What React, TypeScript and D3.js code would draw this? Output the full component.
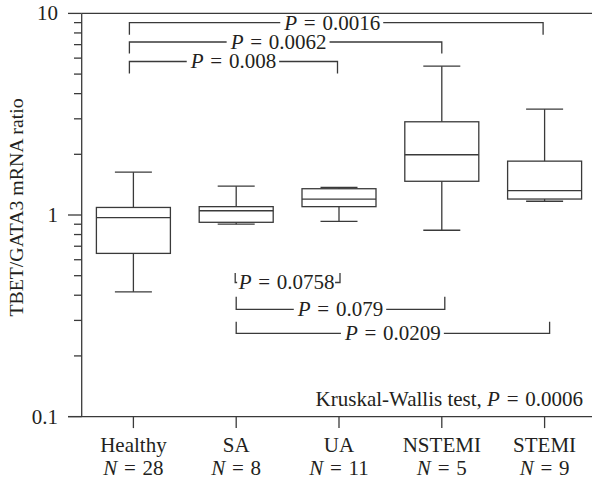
import React, { useEffect, useRef } from 'react';
import * as d3 from 'd3';

// ---- data ----
const categories = ['Healthy', 'SA', 'UA', 'NSTEMI', 'STEMI'];
const sampleSizes = [28, 8, 11, 5, 9];
const whiskerLow = [0.416, 0.9, 0.93, 0.84, 1.17];
const quartile1 = [0.645, 0.92, 1.1, 1.47, 1.2];
const medians = [0.97, 1.05, 1.2, 1.99, 1.32];
const quartile3 = [1.09, 1.1, 1.35, 2.9, 1.85];
const whiskerHigh = [1.63, 1.39, 1.37, 5.47, 3.35];
const yTickValues = [0.1, 1, 10];
const yTickLabels = ['0.1', '1', '10'];
const yMinorTicks = [0.2, 0.3, 0.4, 0.5, 0.6, 0.7, 0.8, 0.9, 2, 3, 4, 5, 6, 7, 8, 9];
const upperComparisons = [
  { from: 'Healthy', to: 'STEMI', p: '0.0016' },
  { from: 'Healthy', to: 'NSTEMI', p: '0.0062' },
  { from: 'Healthy', to: 'UA', p: '0.008' },
];
const lowerComparisons = [
  { from: 'SA', to: 'UA', p: '0.0758' },
  { from: 'SA', to: 'NSTEMI', p: '0.079' },
  { from: 'SA', to: 'STEMI', p: '0.0209' },
];
const yAxisTitle = 'TBET/GATA3 mRNA ratio';
const testLabel = 'Kruskal-Wallis test, ';
const testP = '0.0006';

// ---- layout ----
const W = 592;
const H = 479;
const FONT = '"Liberation Serif", "Times New Roman", serif';
const FS = 21;
const INK = '#231f20';
const LINE = '#3a3a3a';
const SW = 1.3;

const upperLayout = [
  { y: 22.7, leg: 12, dxL: -4, dxR: -1.5, tdx: -4, pad: 3 },
  { y: 42, leg: 11.5, dxL: -4, dxR: 0, tdx: -7, pad: 3 },
  { y: 61.5, leg: 12, dxL: -4, dxR: -1.5, tdx: 0, pad: 3 },
];
const lowerLayout = [
  { y: 282.5, leg: 9.5, dxL: -1, dxR: 1, tdx: -1, pad: 0.5 },
  { y: 309.3, leg: 12.5, dxL: 0, dxR: 3, tdx: 0, pad: 3 },
  { y: 333.3, leg: 11.6, dxL: 0, dxR: 5, tdx: 0, pad: 3 },
];

function appendEq(t: any, variable: string, value: string) {
  t.append('tspan').attr('font-style', 'italic').text(variable);
  t.append('tspan').style('word-spacing', '1.5px').text(` = ${value}`);
}

export default function App() {
  const ref = useRef<SVGSVGElement | null>(null);

  useEffect(() => {
    const svg = d3.select(ref.current);
    svg.selectAll('*').remove();

    const y = d3.scaleLog().domain([0.1, 10]).range([416.6, 13.4]);
    const x = d3.scaleBand<string>().domain(categories).range([82, 596]).padding(0);
    const cx = (c: string) => (x(c) as number) + x.bandwidth() / 2;

    const g = svg.append('g');

    // frame lines
    g.append('line').attr('x1', 81.7).attr('x2', W).attr('y1', y(10)).attr('y2', y(10))
      .attr('stroke', LINE).attr('stroke-width', SW);
    g.append('line').attr('x1', 68).attr('x2', W).attr('y1', y(0.1)).attr('y2', y(0.1))
      .attr('stroke', LINE).attr('stroke-width', SW);
    g.append('line').attr('x1', 81.7).attr('x2', 81.7).attr('y1', y(10)).attr('y2', y(0.1))
      .attr('stroke', LINE).attr('stroke-width', SW);

    // y ticks
    yTickValues.forEach((v, i) => {
      g.append('line').attr('x1', 68).attr('x2', 81.7).attr('y1', y(v)).attr('y2', y(v))
        .attr('stroke', LINE).attr('stroke-width', SW);
      g.append('text').attr('x', 58).attr('y', y(v)).attr('dy', '0.33em')
        .attr('text-anchor', 'end').attr('font-family', FONT).attr('font-size', FS)
        .attr('fill', INK).text(yTickLabels[i]);
    });
    yMinorTicks.forEach((v) => {
      g.append('line').attr('x1', 74).attr('x2', 81.7).attr('y1', y(v)).attr('y2', y(v))
        .attr('stroke', LINE).attr('stroke-width', SW);
    });

    // y title
    g.append('text')
      .attr('transform', `translate(16,207.5) rotate(-90)`)
      .attr('text-anchor', 'middle').attr('dy', '0.35em')
      .attr('font-family', FONT).attr('font-size', 19.8).attr('fill', INK)
      .text(yAxisTitle);

    // x ticks + labels
    categories.forEach((c, i) => {
      const px = cx(c);
      g.append('line').attr('x1', px).attr('x2', px).attr('y1', y(0.1)).attr('y2', y(0.1) + 11.5)
        .attr('stroke', LINE).attr('stroke-width', SW);
      g.append('text').attr('x', px).attr('y', 451.5).attr('text-anchor', 'middle')
        .attr('font-family', FONT).attr('font-size', FS).attr('fill', INK).text(c);
      const t = g.append('text').attr('x', px).attr('y', 474.5).attr('text-anchor', 'middle')
        .attr('font-family', FONT).attr('font-size', FS).attr('fill', INK);
      appendEq(t, 'N', String(sampleSizes[i]));
    });

    // boxes
    const boxW = 74;
    const capW = 37;
    categories.forEach((c, i) => {
      const px = cx(c);
      const bg = g.append('g').attr('stroke', LINE).attr('stroke-width', SW).attr('fill', 'none');
      bg.append('line').attr('x1', px).attr('x2', px).attr('y1', y(whiskerHigh[i])).attr('y2', y(quartile3[i]));
      bg.append('line').attr('x1', px).attr('x2', px).attr('y1', y(quartile1[i])).attr('y2', y(whiskerLow[i]));
      bg.append('line').attr('x1', px - capW / 2).attr('x2', px + capW / 2).attr('y1', y(whiskerHigh[i])).attr('y2', y(whiskerHigh[i]));
      bg.append('line').attr('x1', px - capW / 2).attr('x2', px + capW / 2).attr('y1', y(whiskerLow[i])).attr('y2', y(whiskerLow[i]));
      bg.append('rect').attr('x', px - boxW / 2).attr('width', boxW)
        .attr('y', y(quartile3[i])).attr('height', y(quartile1[i]) - y(quartile3[i]));
      bg.append('line').attr('x1', px - boxW / 2).attr('x2', px + boxW / 2).attr('y1', y(medians[i])).attr('y2', y(medians[i]));
    });

    // brackets
    const drawBracket = (cmp: { from: string; to: string; p: string }, lay: any, dir: number) => {
      const x1 = cx(cmp.from) + lay.dxL;
      const x2 = cx(cmp.to) + lay.dxR;
      const by = lay.y;
      const legEnd = by + dir * lay.leg;
      const bg = g.append('g');
      bg.append('path')
        .attr('d', `M${x1},${legEnd}V${by}H${x2}V${legEnd}`)
        .attr('fill', 'none').attr('stroke', LINE).attr('stroke-width', SW);
      const tx = (x1 + x2) / 2 + lay.tdx;
      const rect = bg.append('rect').attr('fill', '#fff');
      const t = bg.append('text').attr('x', tx).attr('y', by).attr('dy', '0.33em')
        .attr('text-anchor', 'middle').attr('font-family', FONT).attr('font-size', FS).attr('fill', INK);
      appendEq(t, 'P', cmp.p);
      const bb = (t.node() as SVGTextElement).getBBox();
      rect.attr('x', bb.x - lay.pad).attr('width', bb.width + 2 * lay.pad).attr('y', by - 3).attr('height', 6);
    };
    upperComparisons.forEach((c, i) => drawBracket(c, upperLayout[i], 1));
    lowerComparisons.forEach((c, i) => drawBracket(c, lowerLayout[i], -1));

    // test annotation
    const kt = g.append('text').attr('x', 583).attr('y', 405.7).attr('text-anchor', 'end')
      .attr('font-family', FONT).attr('font-size', FS).attr('fill', INK);
    kt.append('tspan').text(testLabel);
    appendEq(kt, 'P', testP);
  }, []);

  return (
    <svg
      ref={ref}
      width={W}
      height={H}
      style={{ position: 'absolute', left: 0, top: 0, background: '#fff' }}
    />
  );
}
